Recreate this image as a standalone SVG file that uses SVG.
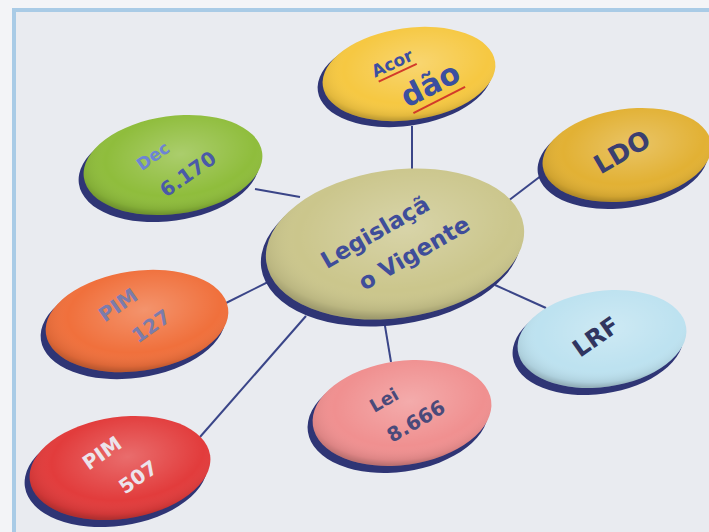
<svg xmlns="http://www.w3.org/2000/svg" width="709" height="532" viewBox="0 0 709 532">
<defs>
<radialGradient id="shade" cx="0.55" cy="0.4" r="0.6">
<stop offset="0" stop-color="#ffffff" stop-opacity="0.25"/>
<stop offset="0.7" stop-color="#ffffff" stop-opacity="0"/>
<stop offset="0.92" stop-color="#000000" stop-opacity="0.08"/>
<stop offset="1" stop-color="#000000" stop-opacity="0.22"/>
</radialGradient>
<style>
.sh{fill:#2f3575}
.ov{fill:url(#shade)}
.ln{stroke:#3a4588;stroke-width:2;fill:none}
.t{font-family:"DejaVu Sans","Liberation Sans",sans-serif;font-weight:bold;text-anchor:middle;dominant-baseline:central}
.ul{stroke:#d23a2a;stroke-width:2}
</style>
</defs>
<rect width="709" height="532" fill="#f3f4f7"/>
<rect x="14" y="10" width="700" height="530" fill="#e9ebf0" stroke="#a9cbe6" stroke-width="4"/>
<g id="connectors">
<line class="ln" x1="412" y1="126" x2="412" y2="170"/>
<line class="ln" x1="255" y1="189" x2="300" y2="197"/>
<line class="ln" x1="508" y1="201" x2="546" y2="172"/>
<line class="ln" x1="224" y1="304" x2="272" y2="280"/>
<line class="ln" x1="200" y1="437" x2="306" y2="316"/>
<line class="ln" x1="384" y1="320" x2="391" y2="362"/>
<line class="ln" x1="495" y1="285" x2="546" y2="308"/>
</g>
<g id="central">
<ellipse class="sh" cx="391" cy="250" rx="131" ry="75" transform="rotate(-8 391 250)"/>
<ellipse cx="395" cy="244" rx="130" ry="74" fill="#cbc68c" transform="rotate(-8 395 244)"/>
<ellipse class="ov" cx="395" cy="244" rx="130" ry="74" transform="rotate(-8 395 244)"/>
<text class="t" x="375" y="232" font-size="23" fill="#3f4d9a" transform="rotate(-30 375 232)">Legislaçã</text>
<text class="t" x="414" y="253" font-size="23" fill="#3f4d9a" transform="rotate(-30 414 253)">o Vigente</text>
</g>
<g id="acordao">
<ellipse class="sh" cx="405" cy="79" rx="88" ry="47" transform="rotate(-8 405 79)"/>
<ellipse cx="409" cy="74" rx="87" ry="46" fill="#f6c842" transform="rotate(-8 409 74)"/>
<ellipse class="ov" cx="409" cy="74" rx="87" ry="46" transform="rotate(-8 409 74)"/>
<g transform="rotate(-25 393 65)">
<text class="t" x="393" y="63" font-size="17" fill="#3b4fa0">Acor</text>
<line class="ul" x1="373" y1="74" x2="415" y2="74"/>
</g>
<g transform="rotate(-27 432 88)">
<text class="t" x="432" y="84" font-size="30" fill="#3b4fa0">dão</text>
<line class="ul" x1="404" y1="102" x2="462" y2="102"/>
</g>
</g>
<g id="dec">
<ellipse class="sh" cx="169" cy="171" rx="91" ry="50" transform="rotate(-8 169 171)"/>
<ellipse cx="173" cy="165" rx="90" ry="49" fill="#8fbd3c" transform="rotate(-8 173 165)"/>
<ellipse class="ov" cx="173" cy="165" rx="90" ry="49" transform="rotate(-8 173 165)"/>
<text class="t" x="153" y="156" font-size="17" fill="#6d84d4" transform="rotate(-35 153 156)">Dec</text>
<text class="t" x="188" y="174" font-size="20" fill="#4a5aa8" transform="rotate(-35 188 174)">6.170</text>
</g>
<g id="ldo">
<ellipse class="sh" cx="623" cy="161" rx="86" ry="47" transform="rotate(-8 623 161)"/>
<ellipse cx="627" cy="155" rx="85" ry="46" fill="#e2b134" transform="rotate(-8 627 155)"/>
<ellipse class="ov" cx="627" cy="155" rx="85" ry="46" transform="rotate(-8 627 155)"/>
<text class="t" x="622" y="152" font-size="26" fill="#3a3f70" transform="rotate(-30 622 152)">LDO</text>
</g>
<g id="pim127">
<ellipse class="sh" cx="133" cy="327" rx="93" ry="51" transform="rotate(-8 133 327)"/>
<ellipse cx="137" cy="321" rx="92" ry="50" fill="#f0703c" transform="rotate(-8 137 321)"/>
<ellipse class="ov" cx="137" cy="321" rx="92" ry="50" transform="rotate(-8 137 321)"/>
<text class="t" x="118" y="305" font-size="20" fill="#7c7cab" transform="rotate(-35 118 305)">PIM</text>
<text class="t" x="151" y="326" font-size="20" fill="#7c7cab" transform="rotate(-35 151 326)">127</text>
</g>
<g id="lei">
<ellipse class="sh" cx="398" cy="419" rx="91" ry="53" transform="rotate(-8 398 419)"/>
<ellipse cx="402" cy="413" rx="90" ry="52" fill="#f09090" transform="rotate(-8 402 413)"/>
<ellipse class="ov" cx="402" cy="413" rx="90" ry="52" transform="rotate(-8 402 413)"/>
<text class="t" x="384" y="400" font-size="18" fill="#4a4a7a" transform="rotate(-30 384 400)">Lei</text>
<text class="t" x="416" y="421" font-size="20" fill="#4a4a7a" transform="rotate(-30 416 421)">8.666</text>
</g>
<g id="lrf">
<ellipse class="sh" cx="598" cy="345" rx="86" ry="49" transform="rotate(-8 598 345)"/>
<ellipse cx="602" cy="339" rx="85" ry="48" fill="#bde2f0" transform="rotate(-8 602 339)"/>
<ellipse class="ov" cx="602" cy="339" rx="85" ry="48" transform="rotate(-8 602 339)"/>
<text class="t" x="596" y="337" font-size="24" fill="#303560" transform="rotate(-35 596 337)">LRF</text>
</g>
<g id="pim507">
<ellipse class="sh" cx="116" cy="474" rx="92" ry="52" transform="rotate(-8 116 474)"/>
<ellipse cx="120" cy="468" rx="91" ry="51" fill="#e23c3c" transform="rotate(-8 120 468)"/>
<ellipse class="ov" cx="120" cy="468" rx="91" ry="51" transform="rotate(-8 120 468)"/>
<text class="t" x="102" y="453" font-size="20" fill="#ece4ec" transform="rotate(-35 102 453)">PIM</text>
<text class="t" x="138" y="477" font-size="20" fill="#ece4ec" transform="rotate(-35 138 477)">507</text>
</g>
</svg>
